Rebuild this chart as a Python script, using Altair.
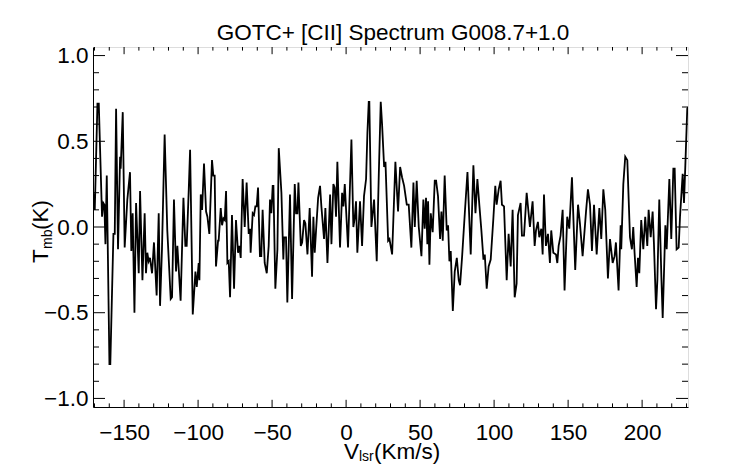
import altair as alt
import pandas as pd

# ---- spectrum data (V_lsr in km/s, T_mb in K) ----
v_left = [-171.0, -169.8, -168.0, -167.1, -164.9, -164.0, -163.3, -162.6, -161.7, -159.9,
          -159.3, -157.2, -156.3, -155.4, -154.1, -152.7, -152.3, -150.9, -149.6, -147.8,
          -146.0, -145.1, -144.2, -143.0, -141.9, -140.1, -139.2, -137.6, -136.1, -135.2,
          -134.3, -133.4, -132.5, -131.1, -129.8, -128.0, -126.6, -125.7, -124.4, -122.6,
          -120.8, -118.5, -117.6, -116.3, -114.9, -114.0, -111.8, -109.9, -108.6, -107.7,
          -106.3, -105.4, -103.6, -101.8, -100.9, -99.6, -99.1, -98.2, -97.3, -96.0,
          -94.6, -93.7, -92.4, -90.6, -89.7, -88.8, -87.9, -86.5, -86.1, -84.7,
          -83.8, -82.9, -82.0, -81.1, -80.2, -79.3, -78.4, -77.1, -75.7, -74.4,
          -73.0, -72.1, -71.2, -69.9, -68.5, -67.2, -65.8, -64.9, -64.5, -63.1,
          -62.2, -61.3, -60.4, -59.5, -58.2, -57.3, -56.4, -55.0, -53.6, -52.3,
          -51.4, -50.5, -49.6, -49.1, -47.8, -46.4, -45.5, -43.7, -42.4, -41.9,
          -40.6, -39.7]
t_left = [0.21, 0.10, 0.72, 0.72, 0.06, 0.14, 0.13, -0.10, 0.30, -0.80,
          -0.80, -0.04, -0.04, 0.69, -0.13, 0.41, 0.34, 0.67, -0.12, 0.16,
          0.32, -0.14, 0.08, -0.50, 0.14, -0.27, 0.21, -0.31, 0.08, -0.27,
          -0.15, -0.20, -0.18, -0.27, -0.09, -0.40, 0.08, -0.46, -0.13, 0.54,
          -0.02, -0.42, -0.41, 0.16, -0.26, -0.11, -0.43, 0.17, -0.11, -0.11,
          0.22, 0.45, -0.51, -0.26, -0.35, -0.21, -0.31, 0.19, 0.10, 0.37,
          0.09, 0.06, -0.04, 0.39, 0.30, 0.30, -0.23, -0.08, -0.08, 0.11,
          0.01, 0.05, 0.04, 0.21, -0.21, -0.20, -0.41, 0.07, -0.36, 0.04,
          -0.15, -0.11, -0.18, 0.28, 0.00, 0.26, -0.04, -0.01, -0.15, 0.08,
          0.07, 0.12, 0.12, 0.23, -0.17, -0.17, 0.10, -0.21, -0.27, -0.11,
          0.16, 0.08, 0.24, 0.24, -0.36, -0.13, 0.46, 0.20, -0.19, -0.06,
          -0.06, -0.44]

v_mid = [-37.9, -36.5, -34.7, -33.8, -32.9, -32.2, -30.6, -29.7, -28.4, -27.5,
         -26.1, -24.6, -23.0, -22.1, -21.2, -20.3, -18.9, -17.6, -16.7, -14.9,
         -14.0, -12.6, -10.8, -9.9, -8.6, -7.7, -6.8, -5.9, -4.1, -2.7,
         -1.8, -0.9, 1.3, 3.6, 4.9, 5.8, 6.7, 7.6, 9.4, 10.8,
         12.1, 13.5, 14.4, 15.3, 15.7, 17.1, 18.9, 20.7, 22.1, 23.4,
         24.3, 25.7, 26.6, 28.4, 29.3, 31.1, 33.3, 35.1, 36.5, 37.8,
         39.2, 41.0, 42.3, 44.1, 45.5, 46.4, 47.7, 49.1, 50.9, 52.2,
         53.1, 54.0, 54.9, 55.4, 56.3, 57.2, 58.5, 59.9, 60.8, 62.1,
         63.5, 64.4, 65.3, 66.6, 68.0, 68.9, 69.8, 70.7, 72.1, 73.4,
         74.8, 76.1, 77.0, 78.4, 80.2, 82.0, 84.2, 86.0, 87.4, 88.7,
         90.1, 91.4, 92.8, 93.7, 95.0]
t_mid = [0.19, -0.42, 0.25, 0.08, 0.08, 0.26, -0.11, -0.09, 0.04, 0.02,
         -0.16, 0.11, -0.29, 0.06, -0.15, -0.02, 0.17, 0.24, 0.12, -0.07,
         0.11, -0.21, 0.19, -0.10, 0.25, 0.23, 0.06, 0.38, -0.12, 0.20,
         0.12, 0.25, -0.12, 0.51, 0.00, 0.05, 0.15, -0.15, 0.15, -0.11,
         0.18, 0.28, 0.55, 0.73, 0.73, 0.00, 0.16, -0.20, 0.31, 0.73,
         0.60, 0.35, 0.38, -0.08, -0.07, -0.16, 0.38, 0.09, 0.35, 0.29,
         0.24, 0.13, 0.13, -0.12, 0.26, 0.00, 0.27, 0.00, -0.17, 0.16,
         -0.01, 0.17, -0.10, 0.15, -0.22, 0.08, -0.03, 0.27, 0.27, 0.18,
         -0.07, 0.09, -0.08, 0.30, -0.02, 0.01, -0.20, -0.14, -0.49, -0.26,
         -0.18, -0.31, -0.34, -0.17, 0.08, 0.32, -0.16, 0.36, 0.08, 0.28,
         0.12, -0.02, -0.19, -0.16, -0.36]

v_right = [96.3, 97.7, 99.5, 100.8, 101.7, 103.1, 104.4, 105.3, 106.7, 108.5,
           109.8, 111.2, 112.5, 113.9, 115.2, 116.1, 117.9, 118.8, 120.2, 122.0,
           124.2, 126.0, 127.4, 128.3, 129.6, 130.5, 131.9, 132.8, 133.7, 135.0,
           136.4, 137.7, 138.6, 140.0, 141.8, 142.7, 143.6, 144.9, 146.3, 147.6,
           149.4, 150.8, 152.6, 154.8, 156.7, 158.0, 159.8, 162.1, 163.4, 164.8,
           166.1, 167.5, 169.3, 171.1, 172.4, 173.8, 175.1, 176.9, 178.3, 180.1,
           181.4, 182.3, 184.1, 185.5, 185.9, 187.3, 188.6, 190.0, 191.8, 193.1,
           194.0, 194.9, 196.3, 197.2, 198.1, 199.4, 200.8, 202.1, 203.5, 204.4,
           205.8, 207.1, 208.0, 209.4, 210.3, 211.6, 213.0, 213.9, 215.7, 216.6,
           218.4, 219.7, 221.1, 222.0, 223.3, 224.7, 225.6, 227.4, 228.3, 229.2,
           230.5, 231.0]
t_right = [-0.23, -0.19, 0.05, 0.24, 0.13, 0.22, 0.27, 0.13, 0.12, -0.31,
           -0.04, -0.23, 0.10, -0.41, -0.33, 0.07, 0.14, -0.05, -0.05, 0.20,
           0.00, 0.15, -0.11, -0.02, 0.03, -0.06, -0.01, -0.16, 0.19, -0.11,
           -0.04, -0.21, -0.02, -0.15, -0.16, -0.21, -0.11, -0.05, 0.10, -0.37,
           0.06, -0.01, 0.29, -0.25, 0.13, 0.02, -0.17, 0.09, 0.22, 0.13,
           -0.14, 0.13, -0.16, 0.11, -0.07, 0.22, 0.10, -0.30, -0.07, -0.21,
           -0.17, -0.09, -0.37, 0.01, -0.13, 0.25, 0.41, 0.39, -0.06, -0.13,
           0.00, -0.15, -0.35, -0.18, -0.27, 0.04, -0.13, 0.06, -0.11, 0.10,
           -0.06, 0.09, -0.10, -0.48, -0.31, 0.16, -0.29, -0.53, 0.01, -0.13,
           0.28, -0.07, 0.34, 0.34, -0.13, -0.12, 0.06, 0.31, 0.14, 0.36,
           0.69, 0.70]

# ---- axes ----
x_domain = [-171, 231]
y_domain = [-1.05, 1.05]
x_major = [-150, -100, -50, 0, 50, 100, 150, 200]
x_minor = [-170, -160, -140, -130, -120, -110, -90, -80, -70, -60, -40, -30, -20, -10,
           10, 20, 30, 40, 60, 70, 80, 90, 110, 120, 130, 140, 160, 170, 180, 190,
           210, 220, 230]
y_major = [-1.0, -0.5, 0.0, 0.5, 1.0]
y_minor = [-0.9, -0.8, -0.7, -0.6, -0.4, -0.3, -0.2, -0.1,
           0.1, 0.2, 0.3, 0.4, 0.6, 0.7, 0.8, 0.9]

title_text = "GOTC+ [CII] Spectrum G008.7+1.0"

W, H = 595, 360
FONT = "Liberation Sans, Arial, sans-serif"
LBL = 22.5
SUB = 14

df = pd.DataFrame({"v": v_left + v_mid + v_right, "t": t_left + t_mid + t_right})

xenc = alt.X("v:Q", scale=alt.Scale(domain=x_domain, nice=False, zero=False),
             axis=alt.Axis(values=x_major, ticks=False, grid=False, title=None,
                           format=".0f", labelFont=FONT, labelFontSize=LBL,
                           labelColor="black", labelPadding=14,
                           domainColor="black", domainWidth=1))
yenc = alt.Y("t:Q", scale=alt.Scale(domain=y_domain, nice=False, zero=False),
             axis=alt.Axis(values=y_major, ticks=False, grid=False, title=None,
                           format=".1f", labelFont=FONT, labelFontSize=LBL,
                           labelColor="black", labelPadding=5,
                           domainColor="black", domainWidth=1))

line = alt.Chart(df).mark_line(color="black", strokeWidth=1.8, clip=True).encode(
    x=xenc, y=yenc)

def xticks(vals, length):
    d = pd.DataFrame({"v": vals})
    bottom = alt.Chart(d).mark_rule(color="black", strokeWidth=1).encode(
        x=xenc, y=alt.value(H), y2=alt.value(H - length))
    top = alt.Chart(d).mark_rule(color="black", strokeWidth=1).encode(
        x=xenc, y=alt.value(0), y2=alt.value(length))
    return [bottom, top]

def yticks(vals, length):
    d = pd.DataFrame({"t": vals})
    left = alt.Chart(d).mark_rule(color="black", strokeWidth=1).encode(
        y=yenc, x=alt.value(0), x2=alt.value(length))
    right = alt.Chart(d).mark_rule(color="black", strokeWidth=1).encode(
        y=yenc, x=alt.value(W), x2=alt.value(W - length))
    return [left, right]

def label(txt, x, y, size, angle=0, align="left"):
    return alt.Chart(pd.DataFrame({"s": [txt]})).mark_text(
        font=FONT, fontSize=size, color="black", align=align,
        baseline="alphabetic", angle=angle).encode(
        text="s:N", x=alt.value(x), y=alt.value(y))

# chart title
tt = [label(title_text, 300, -7, 22.5, align="center")]
# x-axis title  V_lsr(Km/s)
xt = [label("V", 251, 412, LBL), label("lsr", 266, 414, SUB), label("(Km/s)", 281, 412, LBL)]
# y-axis title  T_mb(K) (rotated)
yt = [label("T", -45, 216, LBL, 270), label("mb", -41, 202, SUB, 270),
      label("(K)", -45, 183, LBL, 270)]

layers = [line] + xticks(x_major, 7.2) + xticks(x_minor, 3.6) \
    + yticks(y_major, 12) + yticks(y_minor, 6) + tt + xt + yt

chart = alt.layer(*layers).properties(
    width=W, height=H,
    autosize=alt.AutoSizeParams(type="none"),
    padding={"left": 85, "top": 39, "right": 46, "bottom": 57},
).configure_view(stroke="black", strokeWidth=1).configure(background="white")

chart.save("out.html", embed_options={"renderer": "svg", "actions": False})
